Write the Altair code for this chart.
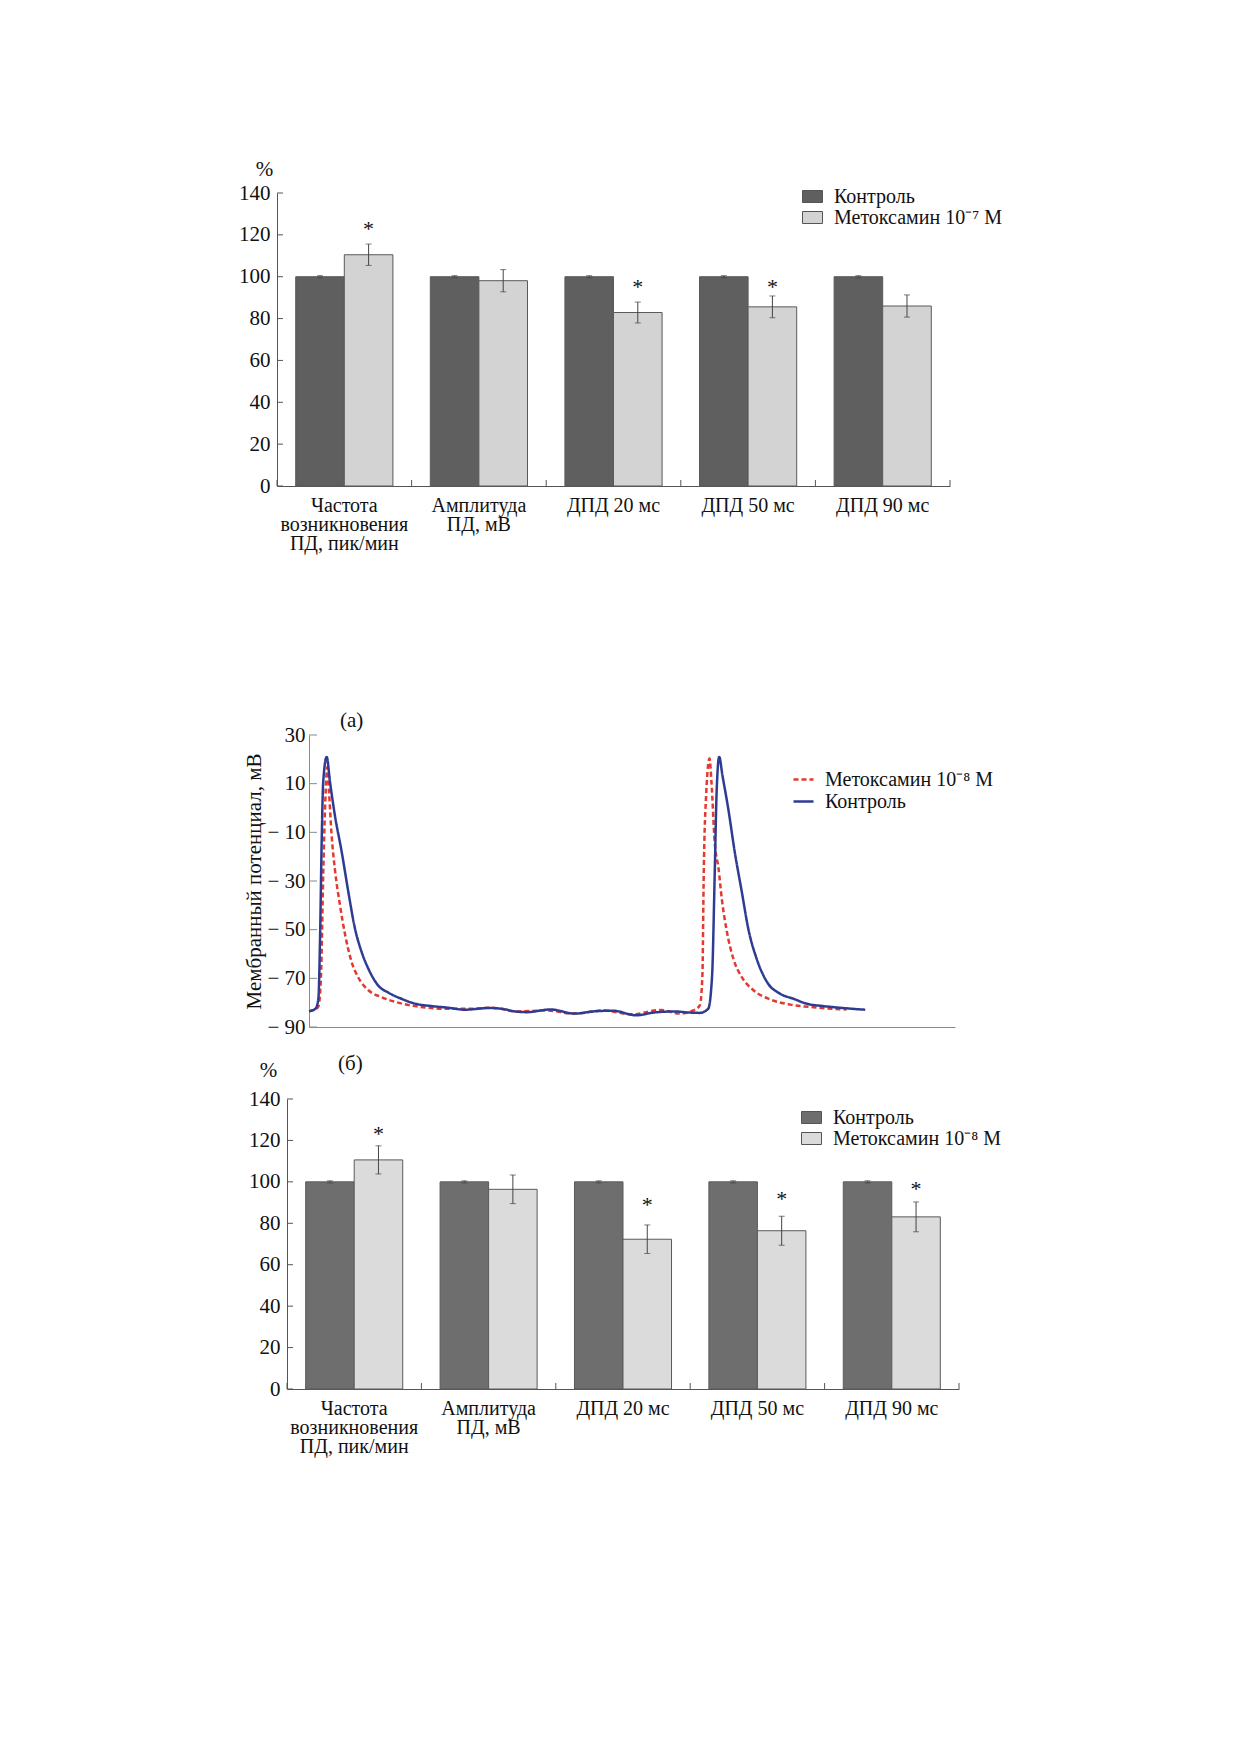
import altair as alt
import pandas as pd

FONT = "Liberation Serif"

# ---------------- data ----------------
CATS = ["Частота\nвозникновения\nПД, пик/мин", "Амплитуда\nПД, мВ", "ДПД 20 мс", "ДПД 50 мс", "ДПД 90 мс"]
CTRL = "Контроль"
MET7 = "Метоксамин 10⁻⁷ М"
MET8 = "Метоксамин 10⁻⁸ М"

Y_TICKS_BAR = [0, 20, 40, 60, 80, 100, 120, 140]
Y_TICKS_LINE = [30, 10, -10, -30, -50, -70, -90]

# top panel (10^-7 M)
CTRL_A = [100, 100, 100, 100, 100]
CTRL_A_ERR = [0.5, 0.5, 0.5, 0.5, 0.5]
MET_A = [110.5, 98.1, 82.9, 85.6, 86.0]
MET_A_ERR = [5.1, 5.3, 5.0, 5.2, 5.3]
STAR_A = [123.4, None, 95.7, 95.7, None]   # height of the "*" marks (%)

# bottom panel (10^-8 M)
CTRL_B = [100, 100, 100, 100, 100]
CTRL_B_ERR = [0.5, 0.5, 0.5, 0.5, 0.5]
MET_B = [110.6, 96.4, 72.3, 76.4, 83.1]
MET_B_ERR = [6.8, 6.9, 6.9, 7.0, 7.2]
STAR_B = [123.8, None, 89.5, 92.4, 96.8]

# membrane potential traces
T_CTRL = [0, 1.0, 1.45, 1.7, 1.96, 2.2, 2.74, 3.25, 4.0, 5.06, 6.09, 7.12, 8.15, 9.18, 10.7,
          12.3, 14.3, 16.4, 19.0, 21.6, 24.1, 27.8, 29.8, 31.9, 33.7, 37.4, 41.1, 44.0, 47.0,
          50.7, 53.5, 56.7, 58.5, 60.5, 61.8, 62.4, 62.8, 63.1, 63.5, 64.0, 64.9, 65.9, 67.0,
          68.0, 69.3, 70.9, 72.9, 75.0, 77.0, 79.6, 82.2, 86.1]
V_CTRL = [-83.5, -82.5, -78.4, -55, -14, 10.7, 21, 10.7, -2.9, -18, -34.5, -49.6, -59.2, -66, -72.9,
          -75.9, -78.4, -80.4, -81.4, -82.1, -82.9, -82.2, -82.5, -83.6, -83.9, -82.8, -84.5, -83.6, -83.3,
          -85.2, -84.0, -83.6, -84.0, -84.2, -82.5, -68.8, -27.6, 6.6, 21, 13.4, -0.3, -18, -34.5,
          -49.6, -62, -71.5, -76.3, -78.4, -80.4, -81.4, -82.1, -82.9]

T_MET = [0, 1.0, 1.45, 1.86, 2.2, 2.48, 2.84, 3.1, 3.5, 4.0, 4.8, 5.6, 6.6, 7.6, 9.2, 11.2, 13.8,
         16.4, 21.6, 25.2, 28.3, 32.2, 36.7, 41.1, 45.6, 50.0, 54.4, 57.4, 59.5, 60.5, 60.9, 61.1,
         61.5, 62.0, 62.3, 62.8, 63.4, 63.9, 64.7, 65.7, 67.0, 68.8, 71.4, 74.5, 78.1, 83.2]
V_MET = [-83.5, -82.8, -81.6, -68.8, -27.6, -0.3, 16.8, 6.6, -11.2, -25, -40, -52.2, -63.3, -69.5,
         -74.9, -77.7, -80, -81.4, -82.5, -82.5, -82.1, -83.6, -83.2, -84.5, -83.2, -84.8, -83, -84.5,
         -83.2, -81.1, -68.8, -27.6, 6.6, 20.3, 10.7, -14, -25, -37.3, -51, -62, -69.5, -74.9, -78.7,
         -80.8, -81.9, -82.8]

RED = "#e3392f"
BLUE = "#2d3c92"


def bar_panel(trt, ctrl_v, ctrl_e, trt_v, trt_e, star, dark, light, w, h, shift,
              pct_x, pct_y, leg_x, leg_y, title=None):
    rows = []
    for i, c in enumerate(CATS):
        rows.append(dict(cat=c, grp=CTRL, val=ctrl_v[i], lo=ctrl_v[i] - ctrl_e[i],
                         hi=ctrl_v[i] + ctrl_e[i], star=None))
        rows.append(dict(cat=c, grp=trt, val=trt_v[i], lo=trt_v[i] - trt_e[i],
                         hi=trt_v[i] + trt_e[i], star=star[i]))
    df = pd.DataFrame(rows)

    xscale = alt.Scale(domain=CATS, paddingInner=0, paddingOuter=0, range=[shift, shift + w])
    xaxis = alt.Axis(title=None, labelAngle=0, ticks=False,
                     labelExpr="split(datum.label, '\\n')", labelPadding=9,
                     labelFontSize=20, labelLineHeight=19, labelLimit=400,
                     domainColor="#555", grid=False)
    yscale = alt.Scale(domain=[0, 140], nice=False)
    yaxis = alt.Axis(values=Y_TICKS_BAR, ticks=False, labelPadding=7, grid=False,
                     offset=-shift,
                     title="%", titleAngle=0, titleX=pct_x, titleY=pct_y,
                     titleAlign="center", titleBaseline="alphabetic",
                     domainColor="#555")
    xo_scale = alt.Scale(domain=[CTRL, trt], paddingInner=0, paddingOuter=0.385)

    def X(f="cat:N", **kw):
        return alt.X(f, scale=xscale, axis=xaxis, **kw)

    def Y(f):
        return alt.Y(f, scale=yscale, axis=yaxis)

    XO = alt.XOffset("grp:N", scale=xo_scale)

    legend = alt.Legend(title=None, orient="none", legendX=leg_x, legendY=leg_y,
                        symbolType="M-1,-0.6H1V0.6H-1Z", symbolSize=400,
                        symbolStrokeColor="#555", symbolStrokeWidth=1,
                        symbolOpacity=1, labelFontSize=20, labelFont=FONT,
                        labelOffset=11, rowPadding=0, padding=0, labelLimit=400)

    base = alt.Chart(df)
    bars = base.mark_bar(stroke="#5a5a5a", strokeWidth=1, opacity=1).encode(
        x=X(), xOffset=XO, y=Y("val:Q"),
        color=alt.Color("grp:N", scale=alt.Scale(domain=[CTRL, trt], range=[dark, light]),
                        legend=legend))
    err = base.mark_rule(color="#444", strokeWidth=1).encode(
        x=X(), xOffset=XO, y=Y("lo:Q"), y2="hi:Q")
    cap_lo = base.mark_tick(color="#444", size=6, thickness=1, orient="horizontal").encode(
        x=X(), xOffset=XO, y=Y("lo:Q"))
    cap_hi = base.mark_tick(color="#444", size=6, thickness=1, orient="horizontal").encode(
        x=X(), xOffset=XO, y=Y("hi:Q"))
    stars = base.transform_filter("isValid(datum.star)").mark_text(
        text="*", font=FONT, fontSize=22, baseline="alphabetic", dy=8, color="#111").encode(
        x=X(), xOffset=XO, y=Y("star:Q"))

    ytick_df = pd.DataFrame({"v": Y_TICKS_BAR})
    yticks = alt.Chart(ytick_df).mark_rule(color="#555", strokeWidth=1).encode(
        y=Y("v:Q"), x=alt.value(shift), x2=alt.value(shift + 6))
    xtick_df = pd.DataFrame({"cat": CATS})
    xticks = alt.Chart(xtick_df).mark_rule(color="#555", strokeWidth=1).encode(
        x=X(bandPosition=0), y=alt.value(h), y2=alt.value(h - 6))
    xtick_end = alt.Chart(xtick_df).transform_filter(
        alt.datum.cat == CATS[-1]).mark_rule(color="#555", strokeWidth=1).encode(
        x=X(bandPosition=1), y=alt.value(h), y2=alt.value(h - 6))

    props = dict(width=w + shift, height=h)
    if title is not None:
        props["title"] = title
    return alt.layer(bars, err, cap_lo, cap_hi, stars, yticks, xticks, xtick_end).properties(**props)


# ---------------- top bar chart ----------------
chart_a = bar_panel(MET7, CTRL_A, CTRL_A_ERR, MET_A, MET_A_ERR, STAR_A,
                    "#5f5f5f", "#d3d3d3", 673, 293, 0,
                    pct_x=-13, pct_y=-18, leg_x=525, leg_y=-7)

# ---------------- line chart ----------------
LSHIFT = 32
LW = 646
df_line = pd.concat([
    pd.DataFrame({"t": T_MET, "v": V_MET, "s": MET8}),
    pd.DataFrame({"t": T_CTRL, "v": V_CTRL, "s": CTRL}),
])
line_legend = alt.Legend(title=None, orient="none", legendX=515, legendY=33,
                         symbolType="stroke", symbolSize=400, symbolStrokeWidth=2.5,
                         labelFontSize=20, labelFont=FONT, labelOffset=10,
                         rowPadding=0, padding=0, labelLimit=400)
ly_scale = alt.Scale(domain=[-90, 30], nice=False)
ly_axis = alt.Axis(values=Y_TICKS_LINE, ticks=False, labelPadding=4, grid=False,
                   offset=-LSHIFT,
                   title="Мембранный потенциал, мВ", titlePadding=2,
                   labelExpr="datum.value < 0 ? '\u2212 ' + abs(datum.value) : datum.label",
                   domainColor="#8a8a8a")
lines = alt.Chart(df_line).mark_line(strokeWidth=2.5, interpolate="monotone").encode(
    x=alt.X("t:Q", scale=alt.Scale(domain=[0, 100], nice=False, range=[LSHIFT, LSHIFT + LW]),
            axis=alt.Axis(title=None, labels=False, ticks=False, grid=False,
                          domainColor="#8a8a8a")),
    y=alt.Y("v:Q", scale=ly_scale, axis=ly_axis),
    color=alt.Color("s:N", scale=alt.Scale(domain=[MET8, CTRL], range=[RED, BLUE]),
                    legend=line_legend),
    strokeDash=alt.StrokeDash("s:N", scale=alt.Scale(domain=[MET8, CTRL],
                                                     range=[[5, 3], [1, 0]]),
                              legend=line_legend),
)
lticks = alt.Chart(pd.DataFrame({"v": Y_TICKS_LINE})).mark_rule(
    color="#8a8a8a", strokeWidth=1).encode(
    y=alt.Y("v:Q", scale=ly_scale, axis=ly_axis), x=alt.value(LSHIFT), x2=alt.value(LSHIFT + 8))
chart_line = alt.layer(lines, lticks).properties(
    width=LW + LSHIFT, height=292,
    title=alt.TitleParams("(а)", anchor="start", dx=63, offset=-24, frame="group",
                          fontSize=21, font=FONT, fontWeight="normal",
                          baseline="alphabetic", color="#111"))

# ---------------- bottom bar chart ----------------
chart_b = bar_panel(MET8, CTRL_B, CTRL_B_ERR, MET_B, MET_B_ERR, STAR_B,
                    "#6e6e6e", "#dbdbdb", 672, 290, 10,
                    pct_x=-19, pct_y=-23, leg_x=524, leg_y=8,
                    title=alt.TitleParams("(б)", anchor="start", dx=61, offset=-32,
                                          frame="group", fontSize=21, font=FONT,
                                          fontWeight="normal", baseline="alphabetic",
                                          color="#111"))

RES = dict(color="independent", strokeDash="independent", x="independent",
           y="independent", xOffset="independent")
inner = alt.vconcat(chart_line, chart_b, spacing=16).resolve_scale(**RES).resolve_legend(
    color="independent", strokeDash="independent")
chart = alt.vconcat(chart_a, inner, spacing=157).resolve_scale(**RES).resolve_legend(
    color="independent", strokeDash="independent").properties(
    padding={"left": 230, "top": 150, "right": 10, "bottom": 10}
).configure(font=FONT).configure_view(stroke=None).configure_axis(
    labelFont=FONT, labelFontSize=21, labelColor="#111",
    titleFont=FONT, titleFontSize=21, titleFontWeight="normal", titleColor="#111",
).configure_legend(labelColor="#111")

chart.save("out.html", embed_options={"renderer": "svg", "actions": False})
